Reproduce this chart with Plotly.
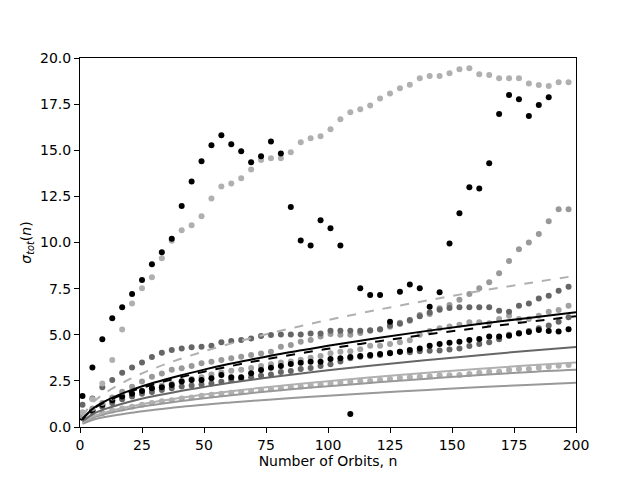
import plotly.graph_objects as go

# Orbit counts for the dotted series (n = 1, 5, 9, ..., 197)
N_DOTS = list(range(1, 198, 4))

black_big = [1.68, 3.23, 4.75, 5.9, 6.49, 7.21, 7.97, 8.82, 9.47, 10.2, 11.98, 13.3, 14.4, 15.27,
             15.81, 15.32, 14.94, 14.35, 14.67, 15.48, 14.83, 11.92, 10.11, 9.84, 11.2, 10.77, 9.84,
             0.7, 7.52, 7.15, 7.15, 5.7, 7.33, 7.72, 7.52, 6.52, 7.3, 9.95, 11.58, 12.99, 12.93,
             14.29, 16.96, 17.99, 17.76, 16.86, 17.45, 17.87]

light_big = [0.8, 1.5, 2.36, 3.63, 5.29, 6.7, 7.52, 8.11, 9.14, 10.1, 10.66, 10.93, 11.42, 12.39,
             13.04, 13.2, 13.48, 13.96, 14.47, 14.56, 14.56, 14.89, 15.43, 15.65, 15.76, 16.14,
             16.68, 17.06, 17.22, 17.43, 17.81, 18.08, 18.36, 18.55, 18.9, 19.02, 19.02, 19.17,
             19.39, 19.44, 19.12, 19.08, 18.9, 18.9, 18.9, 18.62, 18.54, 18.48, 18.68, 18.68]

dark_upper = [1.2, 1.55, 2.15, 2.55, 2.94, 3.23, 3.5, 3.8, 4.03, 4.17, 4.26, 4.32, 4.35, 4.41,
              4.59, 4.66, 4.71, 4.8, 4.93, 4.99, 5.02, 5.02, 5.02, 5.07, 5.07, 5.22, 5.22, 5.22,
              5.22, 5.25, 5.3, 5.5, 5.6, 5.8, 6.0, 6.2, 6.35, 6.45, 6.49, 6.49, 6.49, 6.49, 6.3,
              6.25, 6.57, 6.7, 6.97, 7.12, 7.39, 7.6]

mid_rising = [0.6, 1.0, 1.3, 1.6, 1.91, 2.18, 2.46, 2.73, 2.9, 3.1, 3.18, 3.3, 3.45, 3.54, 3.63,
              3.72, 3.81, 3.9, 3.99, 4.08, 4.35, 4.44, 4.62, 4.71, 4.9, 5.04, 5.0, 5.0, 5.1, 5.22,
              5.29, 5.43, 5.65, 5.76, 6.07, 6.12, 6.43, 6.61, 6.9, 7.21, 7.52, 7.84, 8.33, 9.0,
              9.63, 10.0, 10.46, 11.15, 11.8, 11.8]

mid_upper = [0.55, 0.9, 1.15, 1.4, 1.6, 1.8, 1.95, 2.1, 2.25, 2.35, 2.5, 2.6, 2.7, 2.85, 2.95,
             3.05, 3.1, 3.2, 3.3, 3.4, 3.5, 3.55, 3.65, 3.75, 3.85, 4.0, 4.08, 4.1, 4.22, 4.4,
             4.4, 4.5, 4.6, 4.7, 5.0, 5.2, 5.35, 5.45, 5.54, 5.68, 5.68, 5.62, 5.85, 6.03, 5.85,
             5.85, 6.03, 6.25, 6.34, 6.57]

black_lower = [0.5, 0.9, 1.2, 1.45, 1.65, 1.8, 1.95, 2.1, 2.15, 2.28, 2.46, 2.55, 2.55, 2.64,
               2.82, 2.69, 2.69, 2.91, 3.09, 3.21, 3.31, 3.41, 3.48, 3.54, 3.54, 3.68, 3.72, 3.8,
               3.85, 3.9, 3.95, 4.0, 4.08, 4.17, 4.26, 4.41, 4.5, 4.57, 4.62, 4.71, 4.77, 4.9,
               4.9, 4.95, 5.07, 5.15, 5.26, 5.2, 5.17, 5.3]

dark_lower = [0.6, 0.85, 1.1, 1.3, 1.5, 1.65, 1.8, 1.9, 2.0, 2.1, 2.2, 2.25, 2.3, 2.36, 2.45,
              2.55, 2.6, 2.7, 2.78, 2.85, 2.98, 3.03, 3.15, 3.2, 3.3, 3.4, 3.55, 3.72, 3.81, 3.85,
              3.9, 4.03, 4.08, 4.05, 4.1, 4.13, 4.15, 4.2, 4.26, 4.39, 4.5, 4.6, 4.75, 5.0, 5.1,
              5.2, 5.35, 5.5, 5.7, 5.95]

light_lower = [0.5, 0.6, 0.75, 0.9, 1.0, 1.1, 1.2, 1.3, 1.4, 1.45, 1.55, 1.6, 1.7, 1.75, 1.8,
               1.85, 1.9, 1.95, 2.0, 2.05, 2.1, 2.15, 2.2, 2.25, 2.3, 2.35, 2.4, 2.45, 2.5, 2.5,
               2.55, 2.6, 2.65, 2.7, 2.72, 2.75, 2.8, 2.8, 2.82, 2.87, 2.94, 3.0, 3.0, 3.09, 3.14,
               3.14, 3.21, 3.27, 3.32, 3.36]

# Fitted curves, read at these orbit counts
N_LINE = [1, 5, 10, 20, 30, 40, 50, 60, 70, 80, 90, 100, 120, 140, 160, 180, 200]
fit_light_dash = [0.58, 1.30, 1.83, 2.59, 3.18, 3.67, 4.10, 4.49, 4.85, 5.19, 5.50, 5.80, 6.35, 6.86, 7.34, 7.78, 8.20]
fit_black_solid = [0.44, 0.98, 1.39, 1.97, 2.41, 2.78, 3.11, 3.41, 3.68, 3.94, 4.17, 4.40, 4.82, 5.21, 5.57, 5.90, 6.22]
fit_black_dash = [0.42, 0.95, 1.34, 1.90, 2.32, 2.68, 3.00, 3.28, 3.55, 3.79, 4.02, 4.24, 4.64, 5.02, 5.36, 5.69, 6.00]
fit_dark_solid = [0.31, 0.69, 0.97, 1.37, 1.68, 1.94, 2.17, 2.38, 2.57, 2.75, 2.91, 3.07, 3.36, 3.63, 3.88, 4.12, 4.34]
fit_light_solid = [0.25, 0.56, 0.79, 1.11, 1.36, 1.57, 1.76, 1.93, 2.08, 2.22, 2.36, 2.48, 2.72, 2.94, 3.14, 3.33, 3.50]
fit_mid_solid = [0.22, 0.50, 0.70, 0.99, 1.21, 1.40, 1.56, 1.71, 1.85, 1.98, 2.10, 2.21, 2.42, 2.62, 2.80, 2.97, 3.10]
fit_mid_low = [0.17, 0.38, 0.54, 0.76, 0.93, 1.08, 1.20, 1.32, 1.42, 1.52, 1.61, 1.70, 1.86, 2.01, 2.15, 2.28, 2.40]

BLACK = "#000000"
DARK = "#666666"
MID = "#999999"
LIGHT = "#b0b0b0"

fig = go.Figure()

dot_series = [
    (light_lower, LIGHT),
    (mid_upper, "#a3a3a3"),
    (dark_lower, DARK),
    (black_lower, BLACK),
    (mid_rising, MID),
    (dark_upper, DARK),
    (light_big, LIGHT),
    (black_big, BLACK),
]
for vals, col in dot_series:
    fig.add_trace(go.Scatter(x=N_DOTS[:len(vals)], y=vals, mode="markers",
                             marker=dict(color=col, size=6, line=dict(width=0)),
                             showlegend=False))

line_series = [
    (fit_mid_low, MID, "solid"),
    (fit_mid_solid, MID, "solid"),
    (fit_light_solid, LIGHT, "solid"),
    (fit_dark_solid, DARK, "solid"),
    (fit_light_dash, LIGHT, "dash"),
    (fit_black_dash, BLACK, "dash"),
    (fit_black_solid, BLACK, "solid"),
]
for vals, col, dash in line_series:
    fig.add_trace(go.Scatter(x=N_LINE, y=vals, mode="lines",
                             line=dict(color=col, width=2, dash=dash, shape="spline"),
                             showlegend=False))

axis_common = dict(showline=True, linecolor="black", linewidth=1, mirror=True,
                   ticks="outside", ticklen=5, tickwidth=1, tickcolor="black",
                   showgrid=False, zeroline=False, automargin=False,
                   tickfont=dict(family="DejaVu Sans", size=14, color="black"))

# the page body adds an 8px offset, so margins are shifted to keep the plot area in place
fig.update_layout(
    width=640, height=480,
    margin=dict(l=72, r=72, t=50, b=61),
    paper_bgcolor="white", plot_bgcolor="white",
    font=dict(family="DejaVu Sans", size=14, color="black"),
    xaxis=dict(range=[0, 200], tickvals=[0, 25, 50, 75, 100, 125, 150, 175, 200],
               title=dict(text="Number of Orbits, n", standoff=4,
                          font=dict(family="DejaVu Sans", size=14)),
               **axis_common),
    yaxis=dict(range=[0, 20], tickvals=[0, 2.5, 5, 7.5, 10, 12.5, 15, 17.5, 20],
               tickformat=".1f",
               title=dict(text="<i>σ</i><sub><i>tot</i></sub>(<i>n</i>)", standoff=5,
                          font=dict(family="DejaVu Sans", size=14)),
               **axis_common),
)

fig.write_html("out.html")
